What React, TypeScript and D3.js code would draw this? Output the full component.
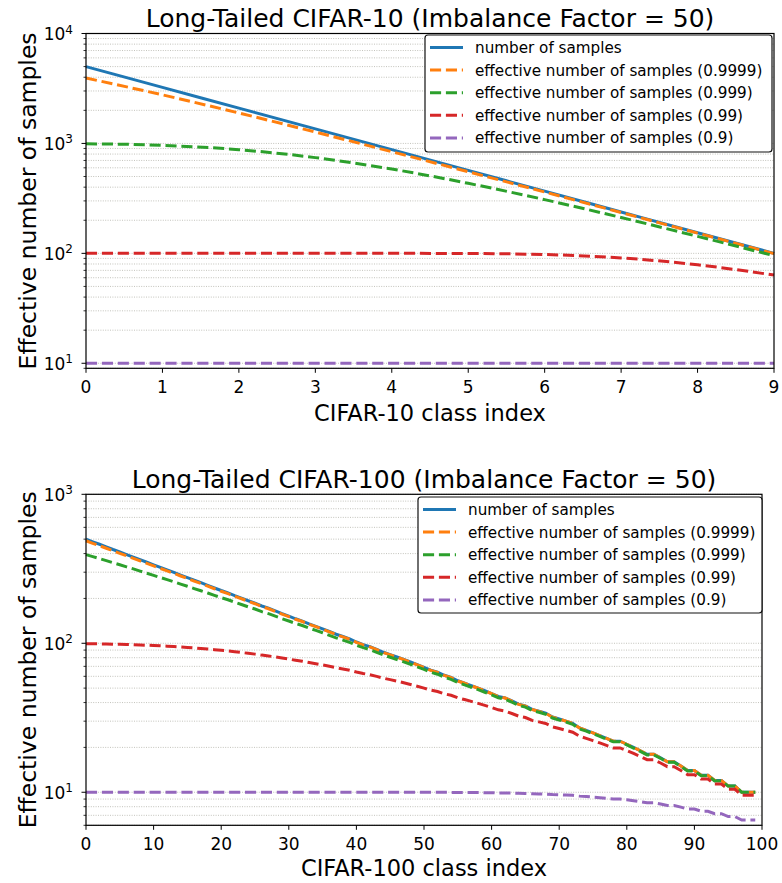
import { useRef, useEffect } from "react";
import * as d3 from "d3";

// CIFAR-10 (10 classes)
const classes10 = d3.range(10);
const samples10 = [5000, 3237, 2096, 1357, 878, 568, 368, 238, 154, 100];
const eff9999_10 = [3935, 2765, 1891, 1269, 840.5, 552.2, 361.3, 235.2, 152.8, 99.5];
const eff999_10 = [993.3, 960.8, 877.2, 742.8, 584.6, 433.5, 308.0, 211.9, 142.8, 95.2];
const eff99_10 = [100, 100, 100, 100, 99.99, 99.67, 97.5, 90.9, 78.7, 63.4];
const eff9_10 = [10, 10, 10, 10, 10, 10, 10, 10, 10, 10];
const xTicks10 = d3.range(10);

// CIFAR-100 (100 classes)
const classes100 = d3.range(100);
const samples100 = [
  500, 480, 462, 444, 426, 410, 394, 379, 364, 350,
  336, 323, 311, 299, 287, 276, 265, 255, 245, 235,
  226, 218, 209, 201, 193, 186, 178, 172, 165, 158,
  152, 146, 141, 135, 130, 125, 120, 115, 111, 107,
  102, 98, 95, 91, 87, 84, 81, 78, 75, 72,
  69, 66, 64, 61, 59, 56, 54, 52, 50, 48,
  46, 44, 43, 41, 39, 38, 36, 35, 34, 32,
  31, 30, 29, 27, 26, 25, 24, 23, 22, 22,
  21, 20, 19, 18, 18, 17, 16, 16, 15, 14,
  14, 13, 13, 12, 12, 11, 11, 10, 10, 10,
];
const eff9999_100 = [
  487.7, 468.7, 451.5, 434.3, 417.1, 401.7, 386.3, 371.9, 357.5, 343.9,
  330.4, 317.8, 306.2, 294.6, 282.9, 272.2, 261.5, 251.8, 242.0, 232.3,
  223.5, 215.6, 206.8, 199.0, 191.1, 184.3, 176.4, 170.5, 163.6, 156.8,
  150.9, 144.9, 140.0, 134.1, 129.2, 124.2, 119.3, 114.3, 110.4, 106.4,
  101.5, 97.5, 94.5, 90.6, 86.6, 83.6, 80.7, 77.7, 74.7, 71.7,
  68.8, 65.8, 63.8, 60.8, 58.8, 55.8, 53.9, 51.9, 49.9, 47.9,
  45.9, 43.9, 42.9, 40.9, 38.9, 37.9, 35.9, 34.9, 33.9, 31.9,
  31.0, 30.0, 29.0, 27.0, 26.0, 25.0, 24.0, 23.0, 22.0, 22.0,
  21.0, 20.0, 19.0, 18.0, 18.0, 17.0, 16.0, 16.0, 15.0, 14.0,
  14.0, 13.0, 13.0, 12.0, 12.0, 11.0, 11.0, 10.0, 10.0, 10.0,
];
const eff999_100 = [
  393.6, 381.4, 370.1, 358.7, 347.0, 336.5, 325.8, 315.6, 305.2, 295.4,
  285.5, 276.1, 267.4, 258.5, 249.6, 241.3, 232.9, 225.2, 217.4, 209.5,
  202.4, 196.0, 188.7, 182.2, 175.6, 169.8, 163.1, 158.1, 152.2, 146.2,
  141.1, 135.9, 131.6, 126.4, 122.0, 117.6, 113.1, 108.7, 105.1, 101.5,
  97.0, 93.4, 90.7, 87.0, 83.4, 80.6, 77.8, 75.1, 72.3, 69.5,
  66.7, 63.9, 62.0, 59.2, 57.3, 54.5, 52.6, 50.7, 48.8, 46.9,
  45.0, 43.1, 42.1, 40.2, 38.3, 37.3, 35.4, 34.4, 33.4, 31.5,
  30.5, 29.6, 28.6, 26.6, 25.7, 24.7, 23.7, 22.7, 21.8, 21.8,
  20.8, 19.8, 18.8, 17.8, 17.8, 16.9, 15.9, 15.9, 14.9, 13.9,
  13.9, 12.9, 12.9, 11.9, 11.9, 11.0, 11.0, 10.0, 10.0, 10.0,
];
const eff99_100 = [
  99.34, 99.2, 99.04, 98.85, 98.62, 98.38, 98.09, 97.78, 97.42, 97.03,
  96.58, 96.11, 95.61, 95.05, 94.41, 93.76, 93.03, 92.29, 91.48, 90.57,
  89.68, 88.82, 87.76, 86.73, 85.62, 84.57, 83.28, 82.24, 80.95, 79.56,
  78.29, 76.95, 75.76, 74.25, 72.92, 71.53, 70.06, 68.52, 67.23, 65.88,
  64.12, 62.65, 61.51, 59.93, 58.29, 57.01, 55.7, 54.34, 52.94, 51.5,
  50.02, 48.49, 47.44, 45.84, 44.74, 43.04, 41.89, 40.71, 39.5, 38.27,
  37.02, 35.74, 35.09, 33.77, 32.43, 31.74, 30.36, 29.66, 28.94, 27.5,
  26.77, 26.03, 25.28, 23.77, 22.99, 22.22, 21.43, 20.64, 19.84, 19.84,
  19.03, 18.21, 17.39, 16.55, 16.55, 15.71, 14.85, 14.85, 14.0, 13.13,
  13.13, 12.25, 12.25, 11.36, 11.36, 10.47, 10.47, 9.56, 9.56, 9.56,
];
const eff9_100 = [
  10, 10, 10, 10, 10, 10, 10, 10, 10, 10,
  10, 10, 10, 10, 10, 10, 10, 10, 10, 10,
  10, 10, 10, 10, 10, 10, 10, 10, 10, 10,
  10, 10, 10, 10, 10, 10, 10, 10, 10, 10,
  10, 10, 10, 10, 9.999, 9.999, 9.998, 9.997, 9.996, 9.995,
  9.993, 9.99, 9.988, 9.984, 9.98, 9.973, 9.966, 9.958, 9.948, 9.936,
  9.922, 9.903, 9.892, 9.867, 9.836, 9.818, 9.775, 9.75, 9.722, 9.657,
  9.618, 9.576, 9.529, 9.419, 9.354, 9.282, 9.202, 9.114, 9.015, 9.015,
  8.906, 8.784, 8.649, 8.499, 8.499, 8.332, 8.147, 8.147, 7.941, 7.712,
  7.712, 7.458, 7.458, 7.176, 7.176, 6.862, 6.862, 6.513, 6.513, 6.513,
];
const xTicks100 = [0, 10, 20, 30, 40, 50, 60, 70, 80, 90, 100];

const seriesNames = [
  "number of samples",
  "effective number of samples (0.9999)",
  "effective number of samples (0.999)",
  "effective number of samples (0.99)",
  "effective number of samples (0.9)",
];
const colors = ["#1f77b4", "#ff7f0e", "#2ca02c", "#d62728", "#9467bd"];
const FONT = "DejaVu Sans, sans-serif";

const drawPanel = (svg, cfg) => {
  const g = svg.append("g");
  const { left, right, top, bottom } = cfg;

  const x = d3.scaleLinear().domain(cfg.xDomain).range([left, right]);
  const y = d3.scaleLog().domain(cfg.yDomain).range([bottom, top]);

  // grid (major + minor, y only)
  const [y0, y1] = cfg.yDomain;
  const gridVals = [];
  for (let e = 0; e <= 4; e++) {
    for (let m = 1; m <= 9; m++) {
      const v = m * Math.pow(10, e);
      if (v >= y0 && v <= y1) gridVals.push(v);
    }
  }
  g.selectAll(".grid")
    .data(gridVals)
    .join("line")
    .attr("x1", left)
    .attr("x2", right)
    .attr("y1", (d) => y(d))
    .attr("y2", (d) => y(d))
    .attr("stroke", "#bcbcb4")
    .attr("stroke-width", 0.9)
    .attr("stroke-dasharray", "1,1.4");

  // lines
  const line = d3
    .line()
    .x((d) => x(d[0]))
    .y((d) => y(d[1]))
    .curve(cfg.curve);
  cfg.series.forEach((vals, i) => {
    g.append("path")
      .datum(cfg.xs.map((c, k) => [c, vals[k]]))
      .attr("d", line)
      .attr("fill", "none")
      .attr("stroke", colors[i])
      .attr("stroke-width", 3)
      .attr("stroke-dasharray", i === 0 ? null : "11.1,4.8");
  });

  // spines
  g.append("rect")
    .attr("x", left)
    .attr("y", top)
    .attr("width", right - left)
    .attr("height", bottom - top)
    .attr("fill", "none")
    .attr("stroke", "#000")
    .attr("stroke-width", 1.2);

  // x ticks
  cfg.xTicks.forEach((t) => {
    g.append("line")
      .attr("x1", x(t))
      .attr("x2", x(t))
      .attr("y1", bottom)
      .attr("y2", bottom + 4.5)
      .attr("stroke", "#000");
    g.append("text")
      .attr("x", x(t))
      .attr("y", bottom + 24.5)
      .attr("text-anchor", "middle")
      .attr("font-family", FONT)
      .attr("font-size", 17)
      .text(t);
  });

  // y ticks
  gridVals.forEach((v) => {
    const major = Math.abs(Math.log10(v) - Math.round(Math.log10(v))) < 1e-9;
    g.append("line")
      .attr("x1", left)
      .attr("x2", left - (major ? 4.5 : 2.5))
      .attr("y1", y(v))
      .attr("y2", y(v))
      .attr("stroke", "#000")
      .attr("stroke-width", major ? 1 : 0.8);
    if (major) {
      const lbl = g
        .append("text")
        .attr("x", left - 13)
        .attr("y", y(v) + 6.5)
        .attr("text-anchor", "end")
        .attr("font-family", FONT)
        .attr("font-size", 17);
      lbl.append("tspan").text("10");
      lbl
        .append("tspan")
        .attr("dy", -6.5)
        .attr("font-size", 12)
        .text(Math.round(Math.log10(v)));
    }
  });

  // title & labels
  g.append("text")
    .attr("x", (left + right) / 2)
    .attr("y", cfg.titleY)
    .attr("text-anchor", "middle")
    .attr("font-family", FONT)
    .attr("font-size", 25)
    .text(cfg.title);
  g.append("text")
    .attr("x", (left + right) / 2)
    .attr("y", cfg.xLabelY)
    .attr("text-anchor", "middle")
    .attr("font-family", FONT)
    .attr("font-size", 22.5)
    .text(cfg.xLabel);
  g.append("text")
    .attr("transform", `translate(${cfg.yLabelX}, ${(top + bottom) / 2}) rotate(-90)`)
    .attr("text-anchor", "middle")
    .attr("font-family", FONT)
    .attr("font-size", 23.5)
    .text("Effective number of samples");

  // legend
  const lg = cfg.legend;
  g.append("rect")
    .attr("x", lg.x)
    .attr("y", lg.y)
    .attr("width", lg.w)
    .attr("height", lg.h)
    .attr("rx", 3)
    .attr("fill", "#fff")
    .attr("stroke", "#111")
    .attr("stroke-width", 1.2);
  seriesNames.forEach((name, i) => {
    const ry = lg.y + 12.5 + i * 22.6;
    g.append("line")
      .attr("x1", lg.x + 5)
      .attr("x2", lg.x + 38)
      .attr("y1", ry)
      .attr("y2", ry)
      .attr("stroke", colors[i])
      .attr("stroke-width", 3)
      .attr("stroke-dasharray", i === 0 ? null : "11.1,4.8");
    g.append("text")
      .attr("x", lg.x + 50)
      .attr("y", ry + 5.5)
      .attr("font-family", FONT)
      .attr("font-size", 15.2)
      .text(name);
  });
};

const App = () => {
  const svgRef = useRef();

  useEffect(() => {
    const svg = d3.select(svgRef.current);
    svg.selectAll("*").remove();

    drawPanel(svg, {
      left: 86,
      right: 774,
      top: 33.5,
      bottom: 368.3,
      xDomain: [0, 9],
      yDomain: [9, 10000],
      xs: classes10,
      series: [samples10, eff9999_10, eff999_10, eff99_10, eff9_10],
      curve: d3.curveMonotoneX,
      xTicks: xTicks10,
      title: "Long-Tailed CIFAR-10 (Imbalance Factor = 50)",
      titleY: 27,
      xLabel: "CIFAR-10 class index",
      xLabelY: 421,
      yLabelX: 36,
      legend: { x: 425, y: 35, w: 347, h: 117 },
    });

    drawPanel(svg, {
      left: 86,
      right: 762,
      top: 494.3,
      bottom: 825.3,
      xDomain: [0, 100],
      yDomain: [6, 1000],
      xs: classes100,
      series: [samples100, eff9999_100, eff999_100, eff99_100, eff9_100],
      curve: d3.curveLinear,
      xTicks: xTicks100,
      title: "Long-Tailed CIFAR-100 (Imbalance Factor = 50)",
      titleY: 488,
      xLabel: "CIFAR-100 class index",
      xLabelY: 876,
      yLabelX: 36,
      legend: { x: 418, y: 497, w: 344, h: 116 },
    });
  }, []);

  return (
    <svg
      ref={svgRef}
      width={782}
      height={883}
      style={{ position: "absolute", left: 0, top: 0, background: "#fff" }}
    ></svg>
  );
};

export default App;
